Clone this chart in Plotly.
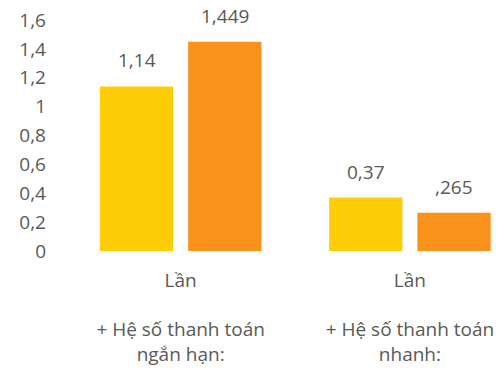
import plotly.graph_objects as go

categories = ["ngan_han", "nhanh"]
tick_labels = ["Lần<br><br>+ Hệ số thanh toán<br>ngắn hạn:", "Lần<br><br>+ Hệ số thanh toán<br>nhanh:"]
series1_values = [1.14, 0.37]
series2_values = [1.449, 0.265]
series1_labels = ["1,14", "0,37"]
series2_labels = ["1,449", ",265"]
y_ticks = [0, 0.2, 0.4, 0.6, 0.8, 1.0, 1.2, 1.4, 1.6]

TEXT = "#595959"
FONT = "Open Sans"
FS = 19

fig = go.Figure()
fig.add_trace(go.Bar(x=categories, y=series1_values, marker=dict(color="#FDCD08", line=dict(width=0)),
                     name="s1"))
fig.add_trace(go.Bar(x=categories, y=series2_values, marker=dict(color="#F9911A", line=dict(width=0)),
                     name="s2"))

for vals, labs, shift in [(series1_values, series1_labels, -44), (series2_values, series2_labels, 44)]:
    for c, v, t in zip(categories, vals, labs):
        fig.add_annotation(x=c, y=v, text=t, showarrow=False, xshift=shift, yshift=26,
                           font=dict(family=FONT, size=FS, color=TEXT))

fig.update_layout(
    width=503, height=369,
    margin=dict(l=66, r=0, t=20, b=118),
    paper_bgcolor="white", plot_bgcolor="white",
    barmode="group", bargap=0.23, bargroupgap=0.17,
    showlegend=False,
    separators=", ",
    font=dict(family=FONT, size=FS, color=TEXT),
)
fig.update_xaxes(type="category", range=[-0.5, 1.406], tickvals=categories, ticktext=tick_labels,
                 showgrid=False, showline=False, zeroline=False, ticks="", ticklabelstandoff=16,
                 tickfont=dict(family=FONT, size=FS, color=TEXT))
fig.update_yaxes(range=[0, 1.6], tickvals=y_ticks, showgrid=False, showline=False, zeroline=False,
                 ticks="", ticklabelstandoff=19, tickfont=dict(family=FONT, size=FS, color=TEXT))

fig.write_html("out.html")
